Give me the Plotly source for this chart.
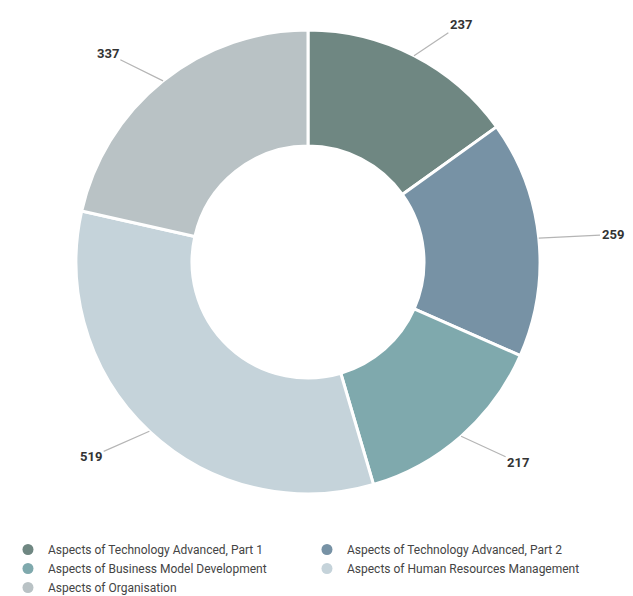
import math
import plotly.graph_objects as go

categories = [
    "Aspects of Technology Advanced, Part 1",
    "Aspects of Technology Advanced, Part 2",
    "Aspects of Business Model Development",
    "Aspects of Human Resources Management",
    "Aspects of Organisation",
]
values = [237, 259, 217, 519, 337]
colors = ["#6f8782", "#7792a5", "#7fa9ad", "#c5d3da", "#b9c2c5"]

W, H = 633, 596
cx_px, cy_px, r_px = 308, 262, 232
dom_x = [(cx_px - r_px) / W, (cx_px + r_px) / W]
dom_y = [1 - (cy_px + r_px) / H, 1 - (cy_px - r_px) / H]

fig = go.Figure()
fig.add_trace(go.Pie(
    labels=categories, values=values, hole=0.5, sort=False,
    direction="clockwise", rotation=0,
    marker=dict(colors=colors, line=dict(color="white", width=3)),
    textinfo="none", showlegend=False, hoverinfo="label+value",
    domain=dict(x=dom_x, y=dom_y),
))

# legend entries with circle markers
for c, col in zip(categories, colors):
    fig.add_trace(go.Scatter(x=[None], y=[None], mode="markers", name=c,
                             marker=dict(symbol="circle", size=11, color=col)))

total = sum(values)
cum = 0
L = 50
for v in values:
    mid = (cum + v / 2) / total * 2 * math.pi
    cum += v
    s, c = math.sin(mid), math.cos(mid)
    px = cx_px + r_px * s
    py = cy_px - r_px * c
    sign = 1 if s >= 0 else -1
    ax = L * s + sign * 24
    ay = -L * c * 0.7
    fig.add_annotation(
        x=px / W, y=1 - py / H, xref="paper", yref="paper",
        text=f"<b>{v}</b>", showarrow=True, arrowhead=0, arrowwidth=1.2,
        arrowcolor="#b5b5b5", ax=ax, ay=ay, standoff=0,
        font=dict(family="Roboto, Arial", size=13, color="#333333"),
    )

fig.update_layout(
    width=W, height=H, margin=dict(l=0, r=0, t=0, b=0, autoexpand=False),
    paper_bgcolor="white", plot_bgcolor="white",
    xaxis=dict(visible=False), yaxis=dict(visible=False),
    legend=dict(orientation="h", x=0.0126, y=1 - 535 / H, xanchor="left", yanchor="top",
                entrywidth=254, entrywidthmode="pixels", itemwidth=30,
                font=dict(family="Roboto, Arial", size=12, color="#444444"),
                tracegroupgap=0),
)

fig.write_html("out.html")
